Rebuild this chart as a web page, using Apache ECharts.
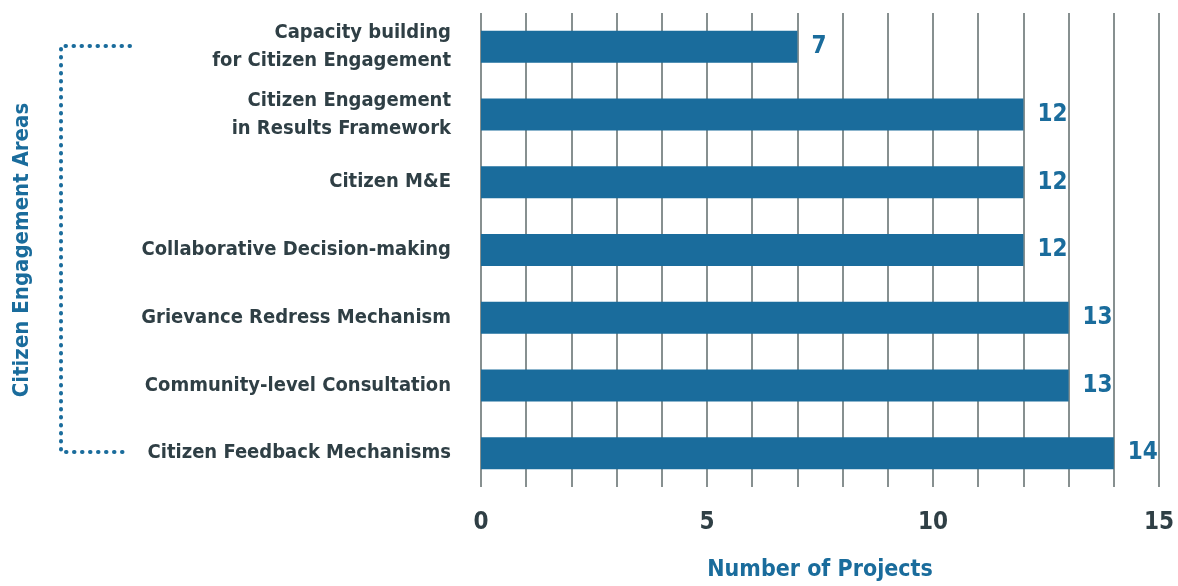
<!DOCTYPE html>
<html>
<head>
<meta charset="utf-8">
<script src="https://cdn.jsdelivr.net/npm/echarts@6/dist/echarts.min.js"></script>
<style>
  html, body { margin: 0; padding: 0; background: #fff; }
  #chart { width: 1178px; height: 586px; }
</style>
</head>
<body>
<div id="chart"></div>
<script>
// categories from bottom to top (echarts draws the first one at the bottom)
const areas = [
  'Citizen Feedback Mechanisms',
  'Community-level Consultation',
  'Grievance Redress Mechanism',
  'Collaborative Decision-making',
  'Citizen M&E',
  'Citizen Engagement\nin Results Framework',
  'Capacity building\nfor Citizen Engagement'
];
const projects = [14, 13, 13, 12, 12, 12, 7];
const xTicks = [0, 5, 10, 15];

const blue = '#1a6c9c';
const grey = '#2f3f45';
const font = '"Liberation Sans Narrow", "DejaVu Sans Condensed", sans-serif';

const chart = echarts.init(document.getElementById('chart'));

const option = {
  animation: false,
  grid: { left: 481, right: 19, top: 13, bottom: 99, outerBoundsMode: 'none', containLabel: false },
  xAxis: {
    type: 'value',
    min: 0,
    max: 15,
    interval: 1,
    name: 'Number of Projects',
    nameLocation: 'middle',
    nameGap: 72,
    nameTextStyle: { color: blue, fontFamily: font, fontWeight: 'bold', fontSize: 23 },
    axisLine: { show: false },
    axisTick: { show: false },
    axisLabel: {
      margin: 24,
      color: grey,
      fontFamily: font,
      fontWeight: 'bold',
      fontSize: 24,
      formatter: v => (xTicks.indexOf(v) >= 0 ? String(v) : '')
    },
    splitLine: { show: true, lineStyle: { color: '#5f6b6b', width: 1.5 } }
  },
  yAxis: {
    type: 'category',
    data: areas,
    axisLine: { show: false },
    axisTick: { show: false },
    axisLabel: {
      margin: 30,
      color: grey,
      fontFamily: font,
      fontWeight: 'bold',
      fontSize: 20,
      lineHeight: 28,
      align: 'right'
    }
  },
  series: [{
    type: 'bar',
    data: projects,
    barWidth: 32,
    itemStyle: { color: blue },
    label: {
      show: true,
      position: 'right',
      distance: 14,
      color: blue,
      fontFamily: font,
      fontWeight: 'bold',
      fontSize: 24
    }
  }],
  graphic: [
    {
      type: 'text',
      x: 22,
      y: 250,
      rotation: Math.PI / 2,
      style: {
        text: 'Citizen Engagement Areas',
        fill: blue,
        font: 'bold 22px ' + font,
        align: 'center',
        verticalAlign: 'middle'
      }
    },
    {
      type: 'polyline',
      shape: { points: [[130, 46], [61, 46], [61, 452], [130, 452]] },
      style: { stroke: blue, lineWidth: 4, lineDash: [0.5, 7.5], lineCap: 'round', fill: null }
    }
  ]
};

chart.setOption(option);
</script>
</body>
</html>
